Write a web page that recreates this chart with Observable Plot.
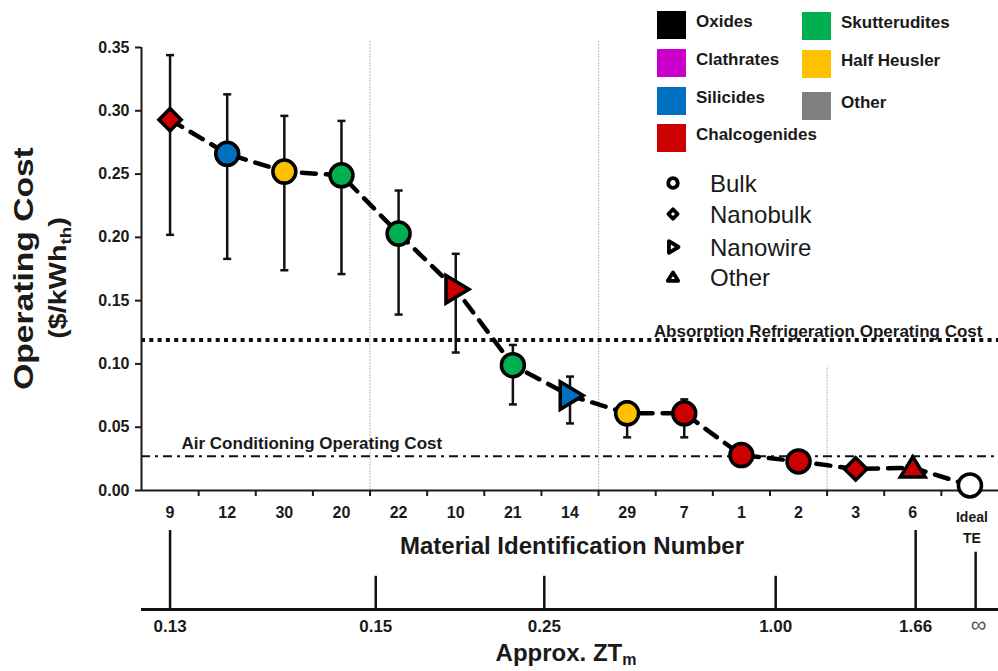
<!DOCTYPE html>
<html><head><meta charset="utf-8">
<script src="https://cdn.jsdelivr.net/npm/d3@7"></script>
<script src="https://cdn.jsdelivr.net/npm/@observablehq/plot@0.6"></script>
<style>
html,body{margin:0;padding:0;background:#fff;overflow:hidden}
#wrap{position:relative;width:998px;height:671px;font-family:"Liberation Sans",Arial,sans-serif}
#wrap > svg, #wrap > figure{position:absolute;left:0;top:0;margin:0}
</style></head><body><div id="wrap"></div>
<script>
// ---------- data ----------
const materialIds = ["9","12","30","20","22","10","21","14","29","7","1","2","3","6","Ideal\nTE"];
const operatingCost = [0.293,0.266,0.252,0.249,0.203,0.159,0.099,0.075,0.061,0.061,0.028,0.023,0.017,0.018,0.004];
const costLow  = [0.202,0.183,0.174,0.171,0.139,0.109,0.068,0.053,0.042,0.042,null,null,null,null,null];
const costHigh = [0.344,0.313,0.296,0.292,0.237,0.187,0.115,0.090,0.070,0.072,null,null,null,null,null];
const materialClass = ["Chalcogenides","Silicides","Half Heusler","Skutterudites","Skutterudites","Chalcogenides","Skutterudites","Silicides","Half Heusler","Chalcogenides","Chalcogenides","Chalcogenides","Chalcogenides","Chalcogenides","Ideal"];
const materialForm = ["Nanobulk","Bulk","Bulk","Bulk","Bulk","Nanowire","Bulk","Nanowire","Bulk","Bulk","Bulk","Bulk","Nanobulk","Other","Bulk"];
const classNames  = ["Oxides","Clathrates","Silicides","Chalcogenides","Skutterudites","Half Heusler","Other"];
const classColors = ["#000000","#CC00CC","#0070C0","#CC0000","#00B050","#FFC000","#808080"];
const formNames = ["Bulk","Nanobulk","Nanowire","Other"];
const yTicks = [0,0.05,0.10,0.15,0.20,0.25,0.30,0.35];
const absorptionCost = 0.119;
const airConditioningCost = 0.027;
const separatorAfter = ["20","14","2"];
const separatorTop = [0.355,0.355,0.098];
const ztLabels = ["0.13","0.15","0.25","1.00","1.66","∞"];
const ztPosition = [0,3.6,6.55,10.6,13.05,14.1];

// ---------- derived ----------
const rows = materialIds.map((id,i)=>({i,id,cost:operatingCost[i],low:costLow[i],high:costHigh[i],cls:materialClass[i],form:materialForm[i]}));
const withErr = rows.filter(d=>d.low!=null);
const seps = separatorAfter.map((id,k)=>({x:materialIds.indexOf(id)+0.5, top:separatorTop[k]}));
const ztRows = ztLabels.map((label,i)=>({i,label,pos:ztPosition[i]}));

const FONT = "'Liberation Sans', Arial, sans-serif";

// custom symbols
const shapes = {
  Bulk:{draw(c,s){const r=Math.sqrt(s/Math.PI);c.moveTo(r,0);c.arc(0,0,r,0,2*Math.PI);c.closePath();}},
  Nanobulk:{draw(c,s){const r=Math.sqrt(s/Math.PI)*0.97;c.moveTo(0,-r);c.lineTo(r,0);c.lineTo(0,r);c.lineTo(-r,0);c.closePath();}},
  Nanowire:{draw(c,s){const r=Math.sqrt(s/Math.PI);c.moveTo(-0.85*r,-1.2*r);c.lineTo(1.15*r,0);c.lineTo(-0.85*r,1.2*r);c.closePath();}},
  Other:{draw(c,s){const r=Math.sqrt(s/Math.PI);c.moveTo(0,-0.95*r);c.lineTo(1.08*r,0.8*r);c.lineTo(-1.08*r,0.8*r);c.closePath();}}
};
const capSymbol = {draw(c,s){const r=Math.sqrt(s/Math.PI);c.moveTo(-r,0);c.lineTo(r,0);}};

const wrap = document.getElementById("wrap");

// ---------- main plot ----------
const main = Plot.plot({
  width:998, height:671,
  marginTop:47, marginBottom:181, marginLeft:141, marginRight:0,
  style:{fontFamily:FONT, color:"#1a1a1a", background:"transparent"},
  x:{domain:[-0.5,14.5], axis:null},
  y:{domain:[0,0.35], axis:null},
  color:{domain:[...classNames,"Ideal"], range:[...classColors,"#ffffff"]},
  marks:[
    Plot.ruleX(seps,{x:"x", y1:0, y2:"top", stroke:"#c4c4c4", strokeWidth:1.2, strokeDasharray:"2,1"}),
    Plot.ruleY([absorptionCost],{stroke:"#111", strokeWidth:4, strokeDasharray:"4,4.3"}),
    Plot.ruleY([airConditioningCost],{stroke:"#111", strokeWidth:2, strokeDasharray:"9,5,3,5"}),
    Plot.text([absorptionCost],{y:d=>d, frameAnchor:"right", dx:-16, dy:-8, text:()=>"Absorption Refrigeration Operating Cost", textAnchor:"end", lineAnchor:"middle", fontSize:17, fontWeight:"bold"}),
    Plot.text([airConditioningCost],{y:d=>d, frameAnchor:"left", dx:40, dy:-13, text:()=>"Air Conditioning Operating Cost", textAnchor:"start", lineAnchor:"middle", fontSize:17, fontWeight:"bold"}),
    Plot.axisY({ticks:yTicks, tickFormat:d3.format(".2f"), tickSize:6, tickPadding:6, fontSize:16, fontWeight:"bold", strokeWidth:2, label:null}),
    Plot.axisX({ticks:d3.range(0.5,14,1), tickSize:6, tickFormat:()=>"", strokeWidth:2, label:null}),
    Plot.ruleX([-0.5],{y1:0, y2:0.35, strokeWidth:2}),
    Plot.ruleY([0],{strokeWidth:2}),
    Plot.text(rows.filter(d=>d.i<14),{x:"i", frameAnchor:"bottom", text:"id", lineAnchor:"top", dy:16, fontSize:16, fontWeight:"bold"}),
    Plot.text(rows.filter(d=>d.i===14),{x:"i", frameAnchor:"bottom", text:"id", lineAnchor:"top", dx:2, dy:16.5, fontSize:14, lineHeight:1.5, fontWeight:"bold"}),
    Plot.line(rows,{x:"i", y:"cost", stroke:"#000", strokeWidth:4.5, strokeDasharray:"14,10"}),
    Plot.ruleX(withErr,{x:"i", y1:"low", y2:"high", stroke:"#111", strokeWidth:2.5}),
    Plot.dot(withErr,{x:"i", y:"low", symbol:capSymbol, r:4, stroke:"#111", strokeWidth:2.5, fill:"none"}),
    Plot.dot(withErr,{x:"i", y:"high", symbol:capSymbol, r:4, stroke:"#111", strokeWidth:2.5, fill:"none"}),
    ...formNames.map(f=>Plot.dot(rows.filter(d=>d.form===f),{x:"i", y:"cost", symbol:shapes[f], r:11.5, fill:"cls", stroke:"#000", strokeWidth:3.5}))
  ]
});
wrap.appendChild(main);

// ---------- ZT axis plot ----------
const tickTop = i => (i===0||i===4) ? 1 : (i===5 ? 0.725 : 0.42);
const zt = Plot.plot({
  width:998, height:671,
  marginTop:530, marginBottom:62, marginLeft:141, marginRight:0,
  style:{fontFamily:FONT, color:"#1a1a1a", background:"transparent"},
  x:{domain:[-0.5,14.5], axis:null},
  y:{domain:[0,1], axis:null},
  marks:[
    Plot.ruleY([0],{strokeWidth:3, stroke:"#111"}),
    Plot.ruleX(ztRows,{x:"pos", y1:0, y2:d=>tickTop(d.i), strokeWidth:2.5, stroke:"#111"}),
    Plot.text(ztRows.filter(d=>d.i<5),{x:"pos", y:0, text:"label", lineAnchor:"top", dy:10.5, fontSize:17, fontWeight:"bold"}),
    Plot.text(ztRows.filter(d=>d.i===5),{x:"pos", y:0, text:"label", lineAnchor:"top", dy:7, dx:3, fontSize:22, fill:"#555"})
  ]
});
wrap.appendChild(zt);

// ---------- titles & legend ----------
const svg = d3.create("svg").attr("width",998).attr("height",671)
  .style("font-family",FONT).style("pointer-events","none");

svg.append("text").attr("transform","translate(33,268.5) rotate(-90) scale(1.2,1)")
  .attr("text-anchor","middle").attr("font-size",28).attr("font-weight","bold").attr("fill","#1a1a1a")
  .text("Operating Cost");
const t2 = svg.append("text").attr("transform","translate(66,278) rotate(-90) scale(1.25,1)")
  .attr("text-anchor","middle").attr("font-size",23).attr("font-weight","bold").attr("fill","#1a1a1a");
t2.append("tspan").text("($/kWh");
t2.append("tspan").attr("font-size",15).attr("dy",5).text("th");
t2.append("tspan").attr("dy",-5).text(")");

svg.append("text").attr("x",572).attr("y",554).attr("text-anchor","middle")
  .attr("font-size",24).attr("font-weight","bold").attr("fill","#1a1a1a").text("Material Identification Number");
const t3 = svg.append("text").attr("x",566).attr("y",661).attr("text-anchor","middle")
  .attr("font-size",24).attr("font-weight","bold").attr("fill","#1a1a1a");
t3.append("tspan").text("Approx. ZT");
t3.append("tspan").attr("font-size",16).attr("dy",4).text("m");

// color legend
const legendPos = [[657,11],[657,49],[657,87],[657,124],[802,12],[802,50],[802,92]];
classNames.forEach((name,k)=>{
  const [lx,ly] = legendPos[k];
  svg.append("rect").attr("x",lx).attr("y",ly).attr("width",29).attr("height",28).attr("fill",classColors[k]);
  svg.append("text").attr("x",lx+39).attr("y",ly+16).attr("font-size",17).attr("font-weight","bold")
    .attr("fill","#1a1a1a").text(name);
});
// shape legend
const shapeY = [183,214,247,277];
formNames.forEach((f,k)=>{
  svg.append("path").attr("transform",`translate(673,${shapeY[k]})`)
    .attr("d",d3.symbol(shapes[f], Math.PI*4.8*4.8)())
    .attr("fill","#fff").attr("stroke","#000").attr("stroke-width",3.8).attr("stroke-linejoin","round");
  svg.append("text").attr("x",710).attr("y",shapeY[k]+8.6).attr("font-size",24).attr("fill","#1a1a1a").text(f);
});
wrap.appendChild(svg.node());
</script></body></html>
